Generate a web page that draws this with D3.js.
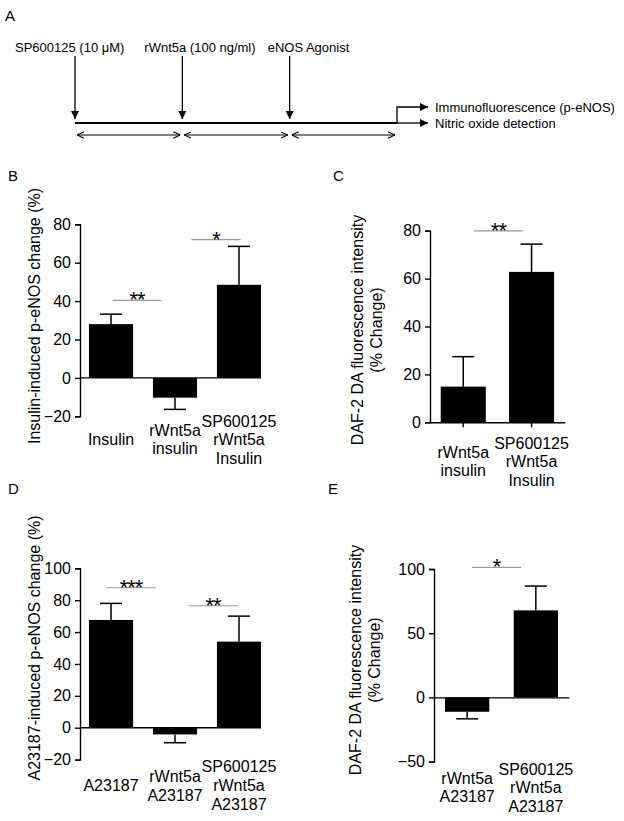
<!DOCTYPE html>
<html><head><meta charset="utf-8">
<script src="https://cdn.jsdelivr.net/npm/d3@7"></script>
<style>html,body{margin:0;padding:0;background:#fff;}svg{display:block;}</style>
</head><body>
<svg id="chart" width="624" height="821"></svg>
<script>
// ---------------- DATA ----------------
// Panel A (protocol timeline)
const timelineEvents = ["SP600125 (10 \u03BCM)", "rWnt5a (100 ng/ml)", "eNOS Agonist"];
const timelineReadouts = ["Immunofluorescence (p-eNOS)", "Nitric oxide detection"];

// Panel B
const bCategories = [["Insulin"], ["rWnt5a", "insulin"], ["SP600125", "rWnt5a", "Insulin"]];
const bValues = [28, -10.3, 48.5];
const bErrors = [5.2, 6.1, 20];
const bTicks = [-20, 0, 20, 40, 60, 80];
const bSig = [{from: 0, to: 1, y: 40.4, label: "**"}, {from: 1, to: 2, y: 72, label: "*"}];

// Panel C
const cCategories = [["rWnt5a", "insulin"], ["SP600125", "rWnt5a", "Insulin"]];
const cValues = [14.9, 62.8];
const cErrors = [12.5, 11.6];
const cTicks = [0, 20, 40, 60, 80];
const cSig = [{from: 0, to: 1, y: 79.9, label: "**"}];

// Panel D
const dCategories = [["A23187"], ["rWnt5a", "A23187"], ["SP600125", "rWnt5a", "A23187"]];
const dValues = [67.6, -4.2, 54];
const dErrors = [10.4, 5.2, 16];
const dTicks = [-20, 0, 20, 40, 60, 80, 100];
const dSig = [{from: 0, to: 1, y: 87.8, label: "***"}, {from: 1, to: 2, y: 76.5, label: "**"}];

// Panel E
const eCategories = [["rWnt5a", "A23187"], ["SP600125", "rWnt5a", "A23187"]];
const eValues = [-11.2, 67.8];
const eErrors = [5.5, 18.9];
const eTicks = [-50, 0, 50, 100];
const eSig = [{from: 0, to: 1, y: 101.3, label: "*"}];

// ---------------- DRAWING ----------------
const FONT = "'Liberation Sans', Arial, Helvetica, sans-serif";
const svg = d3.select("#chart").style("font-family", FONT);

function letter(t, x, y) {
  svg.append("text").attr("x", x).attr("y", y).attr("font-size", 15).attr("fill", "#000").text(t);
}

// ---- Panel A ----
(function () {
  letter("A", 5, 21);
  const g = svg.append("g");
  const defs = svg.append("defs");
  defs.append("marker").attr("id", "solidHead").attr("viewBox", "0 0 10 10")
    .attr("refX", 10).attr("refY", 5).attr("markerWidth", 10).attr("markerHeight", 8)
    .attr("markerUnits", "userSpaceOnUse").attr("orient", "auto")
    .append("path").attr("d", "M0,0 L10,5 L0,10 Z").attr("fill", "#000");
  defs.append("marker").attr("id", "openHead").attr("viewBox", "0 0 10 10")
    .attr("refX", 10).attr("refY", 5).attr("markerWidth", 7).attr("markerHeight", 8)
    .attr("markerUnits", "userSpaceOnUse").attr("orient", "auto-start-reverse")
    .append("path").attr("d", "M0,0.5 L10,5 L0,9.5").attr("fill", "none").attr("stroke", "#000").attr("stroke-width", 1.6);

  const t = d3.scaleLinear().domain([0, timelineEvents.length]).range([75, 397]);
  const labelShift = [-60, -38, -22];
  const yText = 52, yArrowTop = 56, yLine = 123, yUpper = 107, yDouble = 135;

  timelineEvents.forEach((lab, i) => {
    g.append("text").attr("x", t(i) + labelShift[i]).attr("y", yText)
      .attr("font-size", 13).text(lab);
    g.append("line").attr("x1", t(i)).attr("x2", t(i)).attr("y1", yArrowTop).attr("y2", yLine - 4)
      .attr("stroke", "#000").attr("stroke-width", 1.3).attr("marker-end", "url(#solidHead)");
    g.append("line").attr("x1", t(i) + 2).attr("x2", t(i + 1) - 2).attr("y1", yDouble).attr("y2", yDouble)
      .attr("stroke", "#000").attr("stroke-width", 1.2)
      .attr("marker-start", "url(#openHead)").attr("marker-end", "url(#openHead)");
  });
  const xEnd = t(timelineEvents.length);
  g.append("line").attr("x1", t(0)).attr("x2", xEnd).attr("y1", yLine).attr("y2", yLine)
    .attr("stroke", "#000").attr("stroke-width", 2.2);
  g.append("line").attr("x1", xEnd).attr("x2", xEnd + 31).attr("y1", yLine).attr("y2", yLine)
    .attr("stroke", "#000").attr("stroke-width", 1.3).attr("marker-end", "url(#solidHead)");
  g.append("path").attr("d", `M${xEnd},${yLine} V${yUpper} H${xEnd + 31}`)
    .attr("fill", "none").attr("stroke", "#000").attr("stroke-width", 1.3).attr("marker-end", "url(#solidHead)");
  [yUpper, yLine].forEach((yy, i) => {
    g.append("text").attr("x", xEnd + 38).attr("y", yy).attr("dy", "0.35em")
      .attr("font-size", 13).text(timelineReadouts[i]);
  });
})();

// ---- Bar panels ----
function barPanel(cfg) {
  const g = svg.append("g");
  letter(cfg.letter, cfg.letterPos[0], cfg.letterPos[1]);
  const y = d3.scaleLinear().domain(cfg.yDomain).range(cfg.yRange);
  const x = d3.scaleBand().domain(d3.range(cfg.cats.length)).range(cfg.xRange)
    .paddingInner(cfg.pi).paddingOuter(cfg.po);
  const bw = x.bandwidth();

  // y axis
  const ay = g.append("g").attr("transform", `translate(${cfg.xRange[0]},0)`)
    .call(d3.axisLeft(y).tickValues(cfg.ticks).tickSizeOuter(0).tickSize(5).tickPadding(4));
  ay.select(".domain").attr("stroke-width", 1.4);
  ay.selectAll(".tick line").attr("stroke-width", 1.4);
  ay.selectAll(".tick text").attr("font-size", 16).attr("font-family", FONT).attr("fill", "#000");

  // bars
  g.selectAll("rect.bar").data(cfg.vals).enter().append("rect")
    .attr("x", (d, i) => x(i)).attr("width", bw)
    .attr("y", d => y(Math.max(0, d))).attr("height", d => Math.abs(y(d) - y(0)))
    .attr("fill", "#000");

  // baseline / x axis
  if (cfg.xAxisFull) {
    const ax = g.append("g").attr("transform", `translate(0,${y(0)})`)
      .call(d3.axisBottom(x).tickSize(cfg.xTicks ? 5 : 0).tickFormat("").tickSizeOuter(0));
    ax.select(".domain").attr("stroke-width", 1.4);
    ax.selectAll(".tick line").attr("stroke-width", 1.4);
  } else {
    const last = cfg.vals.length - 1;
    g.append("line").attr("x1", cfg.xRange[0]).attr("x2", x(last) + bw)
      .attr("y1", y(0)).attr("y2", y(0)).attr("stroke", "#000").attr("stroke-width", 1.4);
  }

  // error bars
  cfg.vals.forEach((v, i) => {
    const cx = x(i) + bw / 2;
    const end = v + Math.sign(v) * cfg.errs[i];
    g.append("line").attr("x1", cx).attr("x2", cx).attr("y1", y(v)).attr("y2", y(end))
      .attr("stroke", "#000").attr("stroke-width", 1.5);
    g.append("line").attr("x1", cx - 11).attr("x2", cx + 11).attr("y1", y(end)).attr("y2", y(end))
      .attr("stroke", "#000").attr("stroke-width", 1.5);
  });

  // significance
  cfg.sigs.forEach((s, k) => {
    const mid = (x(s.from) + x(s.to)) / 2 + bw / 2 + cfg.sigShift[k];
    const yy = y(s.y);
    g.append("line").attr("x1", mid - 24.5).attr("x2", mid + 24.5).attr("y1", yy).attr("y2", yy)
      .attr("stroke", "#9a9a9a").attr("stroke-width", 1.2);
    g.append("text").attr("x", mid).attr("y", yy + 7).attr("text-anchor", "middle")
      .attr("font-size", 22).attr("letter-spacing", -1).text(s.label);
  });

  // x labels
  cfg.cats.forEach((lines, i) => {
    const cx = x(i) + bw / 2;
    const n = lines.length;
    lines.forEach((ln, j) => {
      g.append("text").attr("x", cx).attr("y", cfg.xLabelMid + (j - (n - 1) / 2) * cfg.lineH)
        .attr("text-anchor", "middle").attr("font-size", 16).text(ln);
    });
  });

  // y label
  cfg.ylabel.forEach((ln, j) => {
    g.append("text").attr("transform", `translate(${cfg.ylabelX[j]},${cfg.ylabelY}) rotate(-90)`)
      .attr("text-anchor", "middle").attr("dy", "0.35em").attr("font-size", 16).text(ln);
  });
}

barPanel({
  letter: "B", letterPos: [8, 181], yDomain: [-20, 80], yRange: [416.3, 224.3], ticks: bTicks,
  xRange: [80, 270], pi: 0.31, po: 0.14, cats: bCategories, vals: bValues, errs: bErrors,
  sigs: bSig, sigShift: [-6, 9], xAxisFull: false, xLabelMid: 445, lineH: 18.5,
  ylabel: ["Insulin-induced p-eNOS change (%)"], ylabelX: [34], ylabelY: 316
});
barPanel({
  letter: "C", letterPos: [333, 181], yDomain: [0, 80], yRange: [422.3, 230.7], ticks: cTicks,
  xRange: [430, 564.8], pi: 0.34, po: 0.157, cats: cCategories, vals: cValues, errs: cErrors,
  sigs: cSig, sigShift: [1], xAxisFull: true, xTicks: true, xLabelMid: 467, lineH: 18.5,
  ylabel: ["DAF-2 DA fluorescence intensity", "(% Change)"], ylabelX: [357, 376], ylabelY: 330
});
barPanel({
  letter: "D", letterPos: [8, 494], yDomain: [-20, 100], yRange: [759.6, 568.3], ticks: dTicks,
  xRange: [80, 270], pi: 0.31, po: 0.14, cats: dCategories, vals: dValues, errs: dErrors,
  sigs: dSig, sigShift: [-12, 6], xAxisFull: false, xLabelMid: 791, lineH: 19,
  ylabel: ["A23187-induced p-eNOS change (%)"], ylabelX: [34], ylabelY: 648
});
barPanel({
  letter: "E", letterPos: [328, 494], yDomain: [-50, 100], yRange: [761.6, 569], ticks: eTicks,
  xRange: [434, 569], pi: 0.355, po: 0.16, cats: eCategories, vals: eValues, errs: eErrors,
  sigs: eSig, sigShift: [-5], xAxisFull: true, xTicks: false, xLabelMid: 793, lineH: 18.5,
  ylabel: ["DAF-2 DA fluorescence intensity", "(% Change)"], ylabelX: [355, 374], ylabelY: 660
});
</script>
</body></html>
